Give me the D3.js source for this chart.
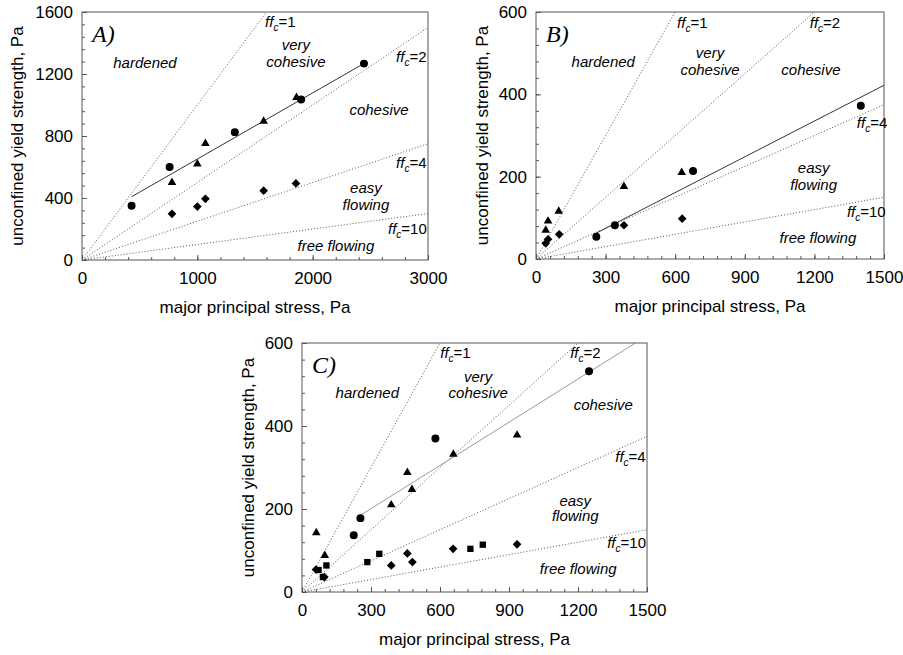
<!DOCTYPE html>
<meta charset="utf-8">
<script src="https://d3js.org/d3.v7.min.js"></script>
<style>
  body { margin: 0; background: #fff; }
  text { font-family: "Liberation Sans", Arial, sans-serif; }
</style>
<div id="chart"></div>
<script>

// flow function values, ffc = major principal stress / unconfined yield strength
var ffcValues = [1, 2, 4, 10];

// panel A  [major principal stress, unconfined yield strength]
var aCircles   = [[430,350],[760,600],[1325,825],[1900,1035],[2445,1267]];
var aTriangles = [[780,500],[1000,620],[1070,752],[1575,895],[1860,1048]];
var aDiamonds  = [[780,298],[1000,345],[1070,395],[1575,447],[1855,494]];
var aFit       = [[430,408],[2450,1270]];

// panel B
var bCircles   = [[260,54],[340,82],[677,214],[1400,372]];
var bTriangles = [[42,70],[52,92],[98,116],[379,176],[628,210]];
var bDiamonds  = [[42,38],[52,48],[100,60],[379,82],[630,98]];
var bFit       = [[250,60],[1500,422]];

// panel C
var cCircles   = [[225,137],[254,178],[580,370],[1248,532]];
var cTriangles = [[62,143],[99,88],[388,210],[458,288],[478,247],[658,332],[935,378]];
var cSquares   = [[72,53],[106,64],[91,36],[284,72],[336,92],[732,104],[786,114]];
var cDiamonds  = [[61,54],[97,36],[388,64],[458,93],[480,72],[657,104],[935,115]];
var cFit       = [[240,180],[1450,600]];

var W = 903, H = 655;

var svg = d3.select("#chart").append("svg")
    .attr("width", W)
    .attr("height", H);

var panels = [
  { tag: "A)", left: 82, top: 12, width: 346, height: 248,
    xMax: 3000, yMax: 1600, xMajor: 1000, xMinor: 200, yMajor: 400, yMinor: 80,
    yTitleOff: 65, fitColor: "#333",
    circles: aCircles, triangles: aTriangles, diamonds: aDiamonds, squares: [], fit: aFit,
    regions: [["hardened",546,1271],["very",1855,1387],["cohesive",1855,1277],["cohesive",2575,968],
              ["easy",2462,465],["flowing",2462,355],["free flowing",2202,90]],
    ffcPos: [[1587,1535],[2723,1310],[2723,626],[2653,200]] },
  { tag: "B)", left: 536, top: 12, width: 348, height: 247,
    xMax: 1500, yMax: 600, xMajor: 300, xMinor: 60, yMajor: 200, yMinor: 40,
    yTitleOff: 54, fitColor: "#333",
    circles: bCircles, triangles: bTriangles, diamonds: bDiamonds, squares: [], fit: bFit,
    regions: [["hardened",290,478],["very",750,500],["cohesive",750,459],["cohesive",1185,459],
              ["easy",1197,221],["flowing",1197,180],["free flowing",1215,52]],
    ffcPos: [[608,575],[1180,575],[1383,330],[1340,115]] },
  { tag: "C)", left: 302, top: 343, width: 345, height: 249,
    xMax: 1500, yMax: 600, xMajor: 300, xMinor: 60, yMajor: 200, yMinor: 40,
    yTitleOff: 54, fitColor: "#999",
    circles: cCircles, triangles: cTriangles, diamonds: cDiamonds, squares: cSquares, fit: cFit,
    regions: [["hardened",284,480],["very",766,519],["cohesive",766,480],["cohesive",1310,451],
              ["easy",1188,221],["flowing",1188,183],["free flowing",1201,55]],
    ffcPos: [[601,577],[1166,577],[1362,325],[1327,118]] }
];

panels.forEach(function(p, i) {
  var g = svg.append("g")
      .attr("transform", "translate(" + p.left + "," + p.top + ")");

  var x = d3.scaleLinear().domain([0, p.xMax]).range([0, p.width]);
  var y = d3.scaleLinear().domain([0, p.yMax]).range([p.height, 0]);

  var clipId = "clip" + i;
  g.append("clipPath").attr("id", clipId)
    .append("rect").attr("width", p.width).attr("height", p.height);

  // minor ticks
  g.append("g")
    .attr("transform", "translate(0," + p.height + ")")
    .call(d3.axisBottom(x).tickValues(d3.range(0, p.xMax + 1, p.xMinor)).tickSize(-3).tickFormat(""))
    .call(function(a) { a.select(".domain").remove(); a.selectAll("line").attr("stroke", "#555"); });
  g.append("g")
    .call(d3.axisLeft(y).tickValues(d3.range(0, p.yMax + 1, p.yMinor)).tickSize(-3).tickFormat(""))
    .call(function(a) { a.select(".domain").remove(); a.selectAll("line").attr("stroke", "#555"); });

  // major ticks with labels
  g.append("g")
    .attr("transform", "translate(0," + p.height + ")")
    .call(d3.axisBottom(x).tickValues(d3.range(0, p.xMax + 1, p.xMajor)).tickSize(-5).tickPadding(12).tickFormat(d3.format("d")))
    .call(function(a) {
      a.select(".domain").remove();
      a.selectAll("line").attr("stroke", "#555");
      a.selectAll("text").attr("font-size", 17).attr("fill", "#000")
        .style("font-family", "'Liberation Sans', Arial, sans-serif");
    });
  g.append("g")
    .call(d3.axisLeft(y).tickValues(d3.range(0, p.yMax + 1, p.yMajor)).tickSize(-5).tickPadding(9).tickFormat(d3.format("d")))
    .call(function(a) {
      a.select(".domain").remove();
      a.selectAll("line").attr("stroke", "#555");
      a.selectAll("text").attr("font-size", 17).attr("fill", "#000")
        .style("font-family", "'Liberation Sans', Arial, sans-serif");
    });

  // ffc dotted lines
  var lines = g.append("g").attr("clip-path", "url(#" + clipId + ")");
  lines.selectAll("line.ffc")
    .data(ffcValues)
    .join("line")
      .attr("x1", x(0)).attr("y1", y(0))
      .attr("x2", x(p.xMax)).attr("y2", function(k) { return y(p.xMax / k); })
      .attr("stroke", "#555")
      .attr("stroke-width", 1)
      .attr("stroke-dasharray", "1,2");

  // fit line
  lines.append("path")
    .datum(p.fit)
    .attr("d", d3.line().x(function(d) { return x(d[0]); }).y(function(d) { return y(d[1]); }))
    .attr("stroke", p.fitColor)
    .attr("stroke-width", 1)
    .attr("fill", "none");

  // frame
  g.append("rect")
    .attr("width", p.width).attr("height", p.height)
    .attr("fill", "none").attr("stroke", "#555").attr("stroke-width", 1);

  // markers
  function markers(data, type, size, rot) {
    g.append("g").selectAll("path")
      .data(data)
      .join("path")
        .attr("d", d3.symbol().type(type).size(size))
        .attr("transform", function(d) {
          return "translate(" + x(d[0]) + "," + y(d[1]) + ")" + (rot ? " rotate(45)" : "");
        })
        .attr("fill", "#000");
  }
  markers(p.circles, d3.symbolCircle, 50);
  markers(p.triangles, d3.symbolTriangle, 32);
  markers(p.diamonds, d3.symbolSquare, 38, true);
  markers(p.squares, d3.symbolSquare, 40);

  // region names
  g.append("g").selectAll("text")
    .data(p.regions)
    .join("text")
      .attr("x", function(d) { return x(d[1]); })
      .attr("y", function(d) { return y(d[2]); })
      .attr("dy", "0.35em")
      .attr("text-anchor", "middle")
      .attr("font-size", 15)
      .attr("font-style", "italic")
      .text(function(d) { return d[0]; });

  // ffc labels
  var ffl = g.append("g").selectAll("text")
    .data(p.ffcPos)
    .join("text")
      .attr("x", function(d) { return x(d[0]); })
      .attr("y", function(d) { return y(d[1]); })
      .attr("dy", "0.35em")
      .attr("font-size", 15)
      .attr("font-style", "italic");
  ffl.append("tspan").text("ff");
  ffl.append("tspan").attr("font-size", 10).attr("dy", 4).text("c");
  ffl.append("tspan").attr("dy", -4).attr("font-style", "normal")
    .text(function(d, j) { return "=" + ffcValues[j]; });

  // panel tag
  g.append("text")
    .attr("x", 10).attr("y", 30)
    .attr("font-size", 24)
    .attr("font-style", "italic")
    .style("font-family", "'Liberation Serif', 'Times New Roman', serif")
    .text(p.tag);

  // axis titles
  g.append("text")
    .attr("x", p.width / 2).attr("y", p.height + 47)
    .attr("dy", "0.35em")
    .attr("text-anchor", "middle")
    .attr("font-size", 17)
    .text("major principal stress, Pa");
  g.append("text")
    .attr("transform", "translate(" + (-p.yTitleOff) + "," + (p.height / 2) + ") rotate(-90)")
    .attr("dy", "0.35em")
    .attr("text-anchor", "middle")
    .attr("font-size", 17)
    .text("unconfined yield strength, Pa");
});

</script>
